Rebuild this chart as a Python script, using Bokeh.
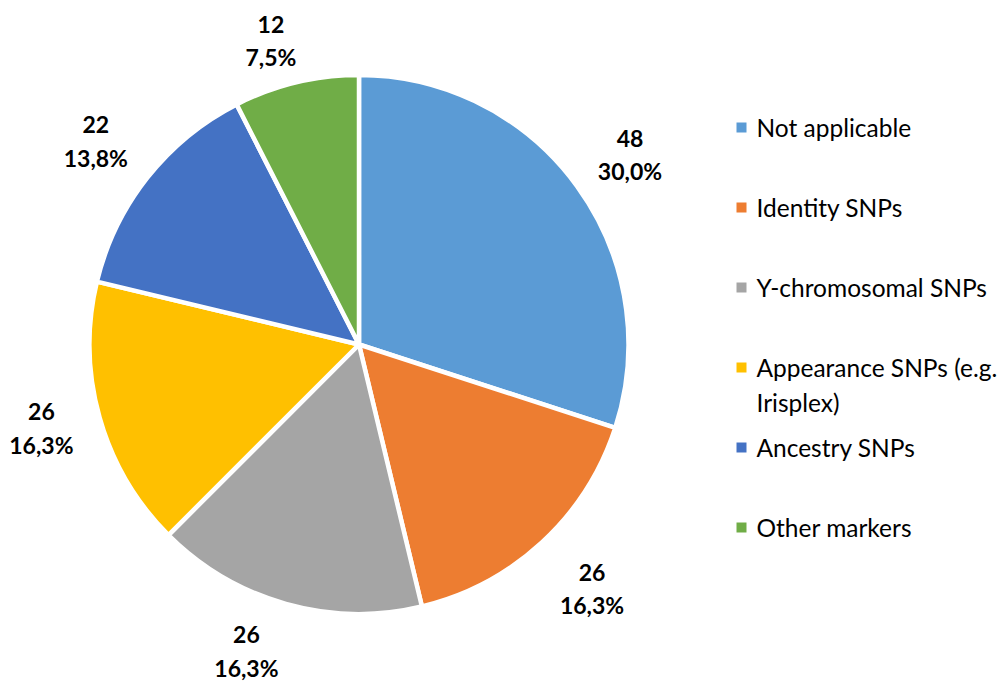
import math
from decimal import Decimal, ROUND_HALF_UP
from bokeh.plotting import figure
from bokeh.models import Range1d, ColumnDataSource
from bokeh.core.properties import value
from bokeh.embed import file_html
from bokeh.resources import INLINE

# ---- data ----
categories = ["Not applicable", "Identity SNPs", "Y-chromosomal SNPs",
              "Appearance SNPs (e.g. Irisplex)", "Ancestry SNPs", "Other markers"]
counts = [48, 26, 26, 26, 22, 12]
legend_lines = [["Not applicable"], ["Identity SNPs"], ["Y-chromosomal SNPs"],
                ["Appearance SNPs (e.g.", "Irisplex)"], ["Ancestry SNPs"], ["Other markers"]]
colors = ["#5B9BD5", "#ED7D31", "#A5A5A5", "#FFC000", "#4472C4", "#70AD47"]

# ---- layout / style ----
W, H = 1001, 681
CX, CY, R = 358.5, 337.0, 269.5
LABEL_R = 330
label_nudge = [(4, -4), (9, -2), (-23, 11), (0, 6), (-4, -1), (-11, -17)]
FONT = "Lato"

total = sum(counts)
starts, ends, mids = [], [], []
acc = 0
for c in counts:
    s = math.pi / 2 - 2 * math.pi * acc / total
    e = math.pi / 2 - 2 * math.pi * (acc + c) / total
    starts.append(s); ends.append(e); mids.append((s + e) / 2)
    acc += c

def pct(c):
    v = Decimal(100 * c) / Decimal(total)
    return str(v.quantize(Decimal("0.1"), rounding=ROUND_HALF_UP)).replace(".", ",") + "%"

p = figure(width=W, height=H, output_backend="svg", toolbar_location=None,
           x_range=Range1d(0, W), y_range=Range1d(0, H),
           min_border=0, outline_line_color=None)
p.axis.visible = False
p.grid.visible = False
p.background_fill_color = "white"
p.border_fill_color = "white"

src = ColumnDataSource(dict(start=starts, end=ends, color=colors, cat=categories))
p.wedge(x=CX, y=CY, radius=R, start_angle="start", end_angle="end", direction="clock",
        fill_color="color", line_color="white", line_width=4.5, source=src)

# data labels
lx = [CX + LABEL_R * math.cos(m) + n[0] for m, n in zip(mids, label_nudge)]
ly = [CY + LABEL_R * math.sin(m) + n[1] for m, n in zip(mids, label_nudge)]
p.text(x=lx, y=[y + 16.5 for y in ly], text=[str(c) for c in counts],
       text_font=value(FONT), text_font_style="bold", text_font_size="23px",
       text_color="black", text_align="center", text_baseline="middle")
p.text(x=lx, y=[y - 16.5 for y in ly], text=[pct(c) for c in counts],
       text_font=value(FONT), text_font_style="bold", text_font_size="23px",
       text_color="black", text_align="center", text_baseline="middle")

# legend
LEG_X, LEG_Y0, LEG_STEP, LINE_STEP = 741, 681 - 127, 80, 35
sq_x, sq_y, tx, ty, tt = [], [], [], [], []
for i, lines in enumerate(legend_lines):
    y0 = LEG_Y0 - i * LEG_STEP
    sq_x.append(LEG_X); sq_y.append(y0)
    for j, t in enumerate(lines):
        tx.append(LEG_X + 15); ty.append(y0 - j * LINE_STEP); tt.append(t)
p.scatter(x=sq_x, y=sq_y, marker="square", size=10, fill_color=colors, line_color=None)
p.text(x=tx, y=ty, text=tt, text_font=value(FONT), text_font_size="24.5px",
       text_color="black", text_align="left", text_baseline="middle")

open("out.html", "w").write(file_html(p, INLINE))
